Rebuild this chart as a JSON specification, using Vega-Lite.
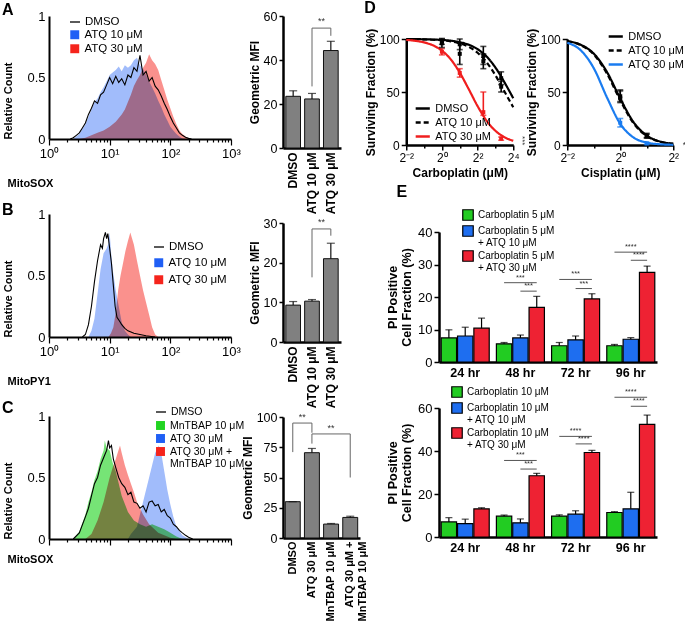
{
  "$schema": "https://vega.github.io/schema/vega-lite/v6.json",
  "background": "white",
  "padding": {"left": 2, "top": 0, "right": 0, "bottom": 0},
  "spacing": -4,
  "resolve": {"scale": {"color": "independent", "fill": "independent", "stroke": "independent", "strokeDash": "independent"}},
  "config": {
    "font": "Liberation Sans",
    "view": {"stroke": null},
    "axis": {"grid": false, "domainColor": "black", "domainWidth": 2, "tickColor": "black", "tickWidth": 1.5, "tickSize": 4, "labelColor": "black", "labelFontSize": 12, "titleColor": "black", "titleFontSize": 12, "titleFontWeight": "bold", "labelPadding": 2},
    "legend": {"labelColor": "black", "labelFontSize": 11.5},
    "title": {"fontSize": 16, "fontWeight": "bold", "anchor": "start", "frame": "bounds", "color": "black"}
  },
  "datasets": {
    "hA": [
      {"s":"DMSO","x":2.24,"y":0},{"s":"DMSO","x":2.51,"y":0.01},{"s":"DMSO","x":2.82,"y":0.03},{"s":"DMSO","x":3.16,"y":0.05},{"s":"DMSO","x":3.55,"y":0.09},{"s":"DMSO","x":3.98,"y":0.13},{"s":"DMSO","x":4.47,"y":0.2},{"s":"DMSO","x":5.01,"y":0.25},{"s":"DMSO","x":5.62,"y":0.31},{"s":"DMSO","x":6.31,"y":0.29},{"s":"DMSO","x":7.08,"y":0.36},{"s":"DMSO","x":7.94,"y":0.38},{"s":"DMSO","x":8.91,"y":0.44},{"s":"DMSO","x":10,"y":0.5},{"s":"DMSO","x":11.2,"y":0.45},{"s":"DMSO","x":12.6,"y":0.51},{"s":"DMSO","x":14.1,"y":0.46},{"s":"DMSO","x":15.8,"y":0.49},{"s":"DMSO","x":17.8,"y":0.44},{"s":"DMSO","x":20,"y":0.52},{"s":"DMSO","x":22.4,"y":0.5},{"s":"DMSO","x":25.1,"y":0.58},{"s":"DMSO","x":28.2,"y":0.55},{"s":"DMSO","x":31.6,"y":0.68},{"s":"DMSO","x":35.5,"y":0.52},{"s":"DMSO","x":39.8,"y":0.55},{"s":"DMSO","x":44.7,"y":0.47},{"s":"DMSO","x":50.1,"y":0.5},{"s":"DMSO","x":56.2,"y":0.43},{"s":"DMSO","x":63.1,"y":0.4},{"s":"DMSO","x":70.8,"y":0.35},{"s":"DMSO","x":79.4,"y":0.29},{"s":"DMSO","x":89.1,"y":0.24},{"s":"DMSO","x":100,"y":0.18},{"s":"DMSO","x":112,"y":0.13},{"s":"DMSO","x":126,"y":0.09},{"s":"DMSO","x":141,"y":0.05},{"s":"DMSO","x":158,"y":0.03},{"s":"DMSO","x":178,"y":0.015},{"s":"DMSO","x":200,"y":0.005},{"s":"DMSO","x":224,"y":0},
      {"s":"ATQ 10 μM","x":2.51,"y":0},{"s":"ATQ 10 μM","x":3.16,"y":0.04},{"s":"ATQ 10 μM","x":3.98,"y":0.12},{"s":"ATQ 10 μM","x":5.01,"y":0.24},{"s":"ATQ 10 μM","x":5.62,"y":0.3},{"s":"ATQ 10 μM","x":6.31,"y":0.33},{"s":"ATQ 10 μM","x":7.08,"y":0.38},{"s":"ATQ 10 μM","x":7.94,"y":0.42},{"s":"ATQ 10 μM","x":8.91,"y":0.47},{"s":"ATQ 10 μM","x":10,"y":0.52},{"s":"ATQ 10 μM","x":11.2,"y":0.54},{"s":"ATQ 10 μM","x":12.6,"y":0.56},{"s":"ATQ 10 μM","x":14.1,"y":0.59},{"s":"ATQ 10 μM","x":15.8,"y":0.55},{"s":"ATQ 10 μM","x":17.8,"y":0.6},{"s":"ATQ 10 μM","x":20,"y":0.58},{"s":"ATQ 10 μM","x":22.4,"y":0.6},{"s":"ATQ 10 μM","x":25.1,"y":0.64},{"s":"ATQ 10 μM","x":28.2,"y":0.66},{"s":"ATQ 10 μM","x":31.6,"y":0.6},{"s":"ATQ 10 μM","x":35.5,"y":0.57},{"s":"ATQ 10 μM","x":39.8,"y":0.52},{"s":"ATQ 10 μM","x":44.7,"y":0.47},{"s":"ATQ 10 μM","x":50.1,"y":0.42},{"s":"ATQ 10 μM","x":56.2,"y":0.37},{"s":"ATQ 10 μM","x":63.1,"y":0.31},{"s":"ATQ 10 μM","x":70.8,"y":0.26},{"s":"ATQ 10 μM","x":79.4,"y":0.2},{"s":"ATQ 10 μM","x":89.1,"y":0.15},{"s":"ATQ 10 μM","x":100,"y":0.1},{"s":"ATQ 10 μM","x":112,"y":0.07},{"s":"ATQ 10 μM","x":126,"y":0.04},{"s":"ATQ 10 μM","x":141,"y":0.02},{"s":"ATQ 10 μM","x":158,"y":0.005},{"s":"ATQ 10 μM","x":178,"y":0},
      {"s":"ATQ 30 μM","x":3.16,"y":0},{"s":"ATQ 30 μM","x":3.98,"y":0.01},{"s":"ATQ 30 μM","x":5.01,"y":0.03},{"s":"ATQ 30 μM","x":6.31,"y":0.05},{"s":"ATQ 30 μM","x":7.94,"y":0.07},{"s":"ATQ 30 μM","x":10,"y":0.1},{"s":"ATQ 30 μM","x":12.6,"y":0.14},{"s":"ATQ 30 μM","x":15.8,"y":0.2},{"s":"ATQ 30 μM","x":17.8,"y":0.24},{"s":"ATQ 30 μM","x":20,"y":0.3},{"s":"ATQ 30 μM","x":22.4,"y":0.36},{"s":"ATQ 30 μM","x":25.1,"y":0.43},{"s":"ATQ 30 μM","x":28.2,"y":0.48},{"s":"ATQ 30 μM","x":31.6,"y":0.52},{"s":"ATQ 30 μM","x":35.5,"y":0.58},{"s":"ATQ 30 μM","x":39.8,"y":0.62},{"s":"ATQ 30 μM","x":44.7,"y":0.69},{"s":"ATQ 30 μM","x":50.1,"y":0.64},{"s":"ATQ 30 μM","x":56.2,"y":0.61},{"s":"ATQ 30 μM","x":63.1,"y":0.56},{"s":"ATQ 30 μM","x":70.8,"y":0.48},{"s":"ATQ 30 μM","x":79.4,"y":0.4},{"s":"ATQ 30 μM","x":89.1,"y":0.32},{"s":"ATQ 30 μM","x":100,"y":0.25},{"s":"ATQ 30 μM","x":112,"y":0.18},{"s":"ATQ 30 μM","x":126,"y":0.12},{"s":"ATQ 30 μM","x":141,"y":0.07},{"s":"ATQ 30 μM","x":158,"y":0.04},{"s":"ATQ 30 μM","x":178,"y":0.02},{"s":"ATQ 30 μM","x":200,"y":0.005},{"s":"ATQ 30 μM","x":224,"y":0}
    ],
    "hB": [
      {"s":"DMSO","x":3.55,"y":0},{"s":"DMSO","x":3.98,"y":0.02},{"s":"DMSO","x":4.47,"y":0.1},{"s":"DMSO","x":5.01,"y":0.25},{"s":"DMSO","x":5.62,"y":0.45},{"s":"DMSO","x":6.31,"y":0.62},{"s":"DMSO","x":7.08,"y":0.75},{"s":"DMSO","x":7.59,"y":0.72},{"s":"DMSO","x":7.94,"y":0.8},{"s":"DMSO","x":8.51,"y":0.85},{"s":"DMSO","x":8.91,"y":0.8},{"s":"DMSO","x":9.33,"y":0.84},{"s":"DMSO","x":10,"y":0.72},{"s":"DMSO","x":10.7,"y":0.6},{"s":"DMSO","x":11.5,"y":0.42},{"s":"DMSO","x":12.3,"y":0.25},{"s":"DMSO","x":13.2,"y":0.16},{"s":"DMSO","x":14.5,"y":0.13},{"s":"DMSO","x":15.8,"y":0.1},{"s":"DMSO","x":17.8,"y":0.07},{"s":"DMSO","x":20,"y":0.05},{"s":"DMSO","x":25.1,"y":0.03},{"s":"DMSO","x":31.6,"y":0.02},{"s":"DMSO","x":39.8,"y":0.01},{"s":"DMSO","x":56.2,"y":0},
      {"s":"ATQ 10 μM","x":4.47,"y":0},{"s":"ATQ 10 μM","x":5.01,"y":0.05},{"s":"ATQ 10 μM","x":5.62,"y":0.15},{"s":"ATQ 10 μM","x":6.31,"y":0.35},{"s":"ATQ 10 μM","x":7.08,"y":0.55},{"s":"ATQ 10 μM","x":7.94,"y":0.68},{"s":"ATQ 10 μM","x":8.91,"y":0.72},{"s":"ATQ 10 μM","x":9.55,"y":0.76},{"s":"ATQ 10 μM","x":10,"y":0.85},{"s":"ATQ 10 μM","x":10.5,"y":0.7},{"s":"ATQ 10 μM","x":11.2,"y":0.55},{"s":"ATQ 10 μM","x":12.6,"y":0.38},{"s":"ATQ 10 μM","x":14.1,"y":0.25},{"s":"ATQ 10 μM","x":15.8,"y":0.12},{"s":"ATQ 10 μM","x":17.8,"y":0.05},{"s":"ATQ 10 μM","x":20,"y":0.02},{"s":"ATQ 10 μM","x":22.4,"y":0},
      {"s":"ATQ 30 μM","x":9.55,"y":0},{"s":"ATQ 30 μM","x":10.5,"y":0.03},{"s":"ATQ 30 μM","x":11.5,"y":0.08},{"s":"ATQ 30 μM","x":12.6,"y":0.2},{"s":"ATQ 30 μM","x":13.8,"y":0.38},{"s":"ATQ 30 μM","x":15.1,"y":0.5},{"s":"ATQ 30 μM","x":16.6,"y":0.6},{"s":"ATQ 30 μM","x":18.2,"y":0.7},{"s":"ATQ 30 μM","x":20,"y":0.78},{"s":"ATQ 30 μM","x":21.9,"y":0.85},{"s":"ATQ 30 μM","x":23.4,"y":0.8},{"s":"ATQ 30 μM","x":25.1,"y":0.75},{"s":"ATQ 30 μM","x":28.2,"y":0.62},{"s":"ATQ 30 μM","x":31.6,"y":0.5},{"s":"ATQ 30 μM","x":35.5,"y":0.38},{"s":"ATQ 30 μM","x":39.8,"y":0.28},{"s":"ATQ 30 μM","x":44.7,"y":0.18},{"s":"ATQ 30 μM","x":50.1,"y":0.08},{"s":"ATQ 30 μM","x":56.2,"y":0.02},{"s":"ATQ 30 μM","x":63.1,"y":0}
    ],
    "hC": [
      {"s":"DMSO","x":2.51,"y":0},{"s":"DMSO","x":3.16,"y":0.05},{"s":"DMSO","x":3.98,"y":0.18},{"s":"DMSO","x":4.47,"y":0.25},{"s":"DMSO","x":5.01,"y":0.35},{"s":"DMSO","x":5.62,"y":0.45},{"s":"DMSO","x":6.31,"y":0.5},{"s":"DMSO","x":7.08,"y":0.6},{"s":"DMSO","x":7.94,"y":0.66},{"s":"DMSO","x":8.91,"y":0.72},{"s":"DMSO","x":9.55,"y":0.8},{"s":"DMSO","x":10,"y":0.74},{"s":"DMSO","x":10.7,"y":0.76},{"s":"DMSO","x":11.5,"y":0.65},{"s":"DMSO","x":12.6,"y":0.58},{"s":"DMSO","x":14.1,"y":0.5},{"s":"DMSO","x":15.8,"y":0.45},{"s":"DMSO","x":17.8,"y":0.42},{"s":"DMSO","x":20,"y":0.36},{"s":"DMSO","x":22.4,"y":0.38},{"s":"DMSO","x":25.1,"y":0.3},{"s":"DMSO","x":28.2,"y":0.29},{"s":"DMSO","x":31.6,"y":0.25},{"s":"DMSO","x":35.5,"y":0.27},{"s":"DMSO","x":39.8,"y":0.22},{"s":"DMSO","x":44.7,"y":0.3},{"s":"DMSO","x":50.1,"y":0.31},{"s":"DMSO","x":56.2,"y":0.27},{"s":"DMSO","x":63.1,"y":0.28},{"s":"DMSO","x":70.8,"y":0.22},{"s":"DMSO","x":79.4,"y":0.24},{"s":"DMSO","x":89.1,"y":0.19},{"s":"DMSO","x":100,"y":0.17},{"s":"DMSO","x":112,"y":0.12},{"s":"DMSO","x":126,"y":0.1},{"s":"DMSO","x":141,"y":0.07},{"s":"DMSO","x":158,"y":0.05},{"s":"DMSO","x":178,"y":0.03},{"s":"DMSO","x":200,"y":0.015},{"s":"DMSO","x":234,"y":0},
      {"s":"MnTBAP 10 μM","x":2.51,"y":0},{"s":"MnTBAP 10 μM","x":3.16,"y":0.06},{"s":"MnTBAP 10 μM","x":3.98,"y":0.2},{"s":"MnTBAP 10 μM","x":4.47,"y":0.3},{"s":"MnTBAP 10 μM","x":5.01,"y":0.38},{"s":"MnTBAP 10 μM","x":5.62,"y":0.48},{"s":"MnTBAP 10 μM","x":6.31,"y":0.55},{"s":"MnTBAP 10 μM","x":7.08,"y":0.65},{"s":"MnTBAP 10 μM","x":7.94,"y":0.72},{"s":"MnTBAP 10 μM","x":8.32,"y":0.8},{"s":"MnTBAP 10 μM","x":8.91,"y":0.74},{"s":"MnTBAP 10 μM","x":10,"y":0.72},{"s":"MnTBAP 10 μM","x":11.2,"y":0.62},{"s":"MnTBAP 10 μM","x":12.6,"y":0.55},{"s":"MnTBAP 10 μM","x":15.8,"y":0.35},{"s":"MnTBAP 10 μM","x":20,"y":0.22},{"s":"MnTBAP 10 μM","x":25.1,"y":0.15},{"s":"MnTBAP 10 μM","x":31.6,"y":0.12},{"s":"MnTBAP 10 μM","x":39.8,"y":0.1},{"s":"MnTBAP 10 μM","x":50.1,"y":0.12},{"s":"MnTBAP 10 μM","x":63.1,"y":0.1},{"s":"MnTBAP 10 μM","x":79.4,"y":0.08},{"s":"MnTBAP 10 μM","x":100,"y":0.05},{"s":"MnTBAP 10 μM","x":126,"y":0.02},{"s":"MnTBAP 10 μM","x":158,"y":0},
      {"s":"ATQ 30 μM + MnTBAP 10 μM","x":3.98,"y":0},{"s":"ATQ 30 μM + MnTBAP 10 μM","x":5.01,"y":0.04},{"s":"ATQ 30 μM + MnTBAP 10 μM","x":6.31,"y":0.15},{"s":"ATQ 30 μM + MnTBAP 10 μM","x":7.94,"y":0.3},{"s":"ATQ 30 μM + MnTBAP 10 μM","x":10,"y":0.5},{"s":"ATQ 30 μM + MnTBAP 10 μM","x":11.2,"y":0.58},{"s":"ATQ 30 μM + MnTBAP 10 μM","x":12.6,"y":0.65},{"s":"ATQ 30 μM + MnTBAP 10 μM","x":14.8,"y":0.76},{"s":"ATQ 30 μM + MnTBAP 10 μM","x":15.8,"y":0.7},{"s":"ATQ 30 μM + MnTBAP 10 μM","x":17.8,"y":0.6},{"s":"ATQ 30 μM + MnTBAP 10 μM","x":20,"y":0.52},{"s":"ATQ 30 μM + MnTBAP 10 μM","x":22.4,"y":0.45},{"s":"ATQ 30 μM + MnTBAP 10 μM","x":25.1,"y":0.38},{"s":"ATQ 30 μM + MnTBAP 10 μM","x":28.2,"y":0.3},{"s":"ATQ 30 μM + MnTBAP 10 μM","x":35.5,"y":0.2},{"s":"ATQ 30 μM + MnTBAP 10 μM","x":44.7,"y":0.12},{"s":"ATQ 30 μM + MnTBAP 10 μM","x":63.1,"y":0.05},{"s":"ATQ 30 μM + MnTBAP 10 μM","x":100,"y":0.01},{"s":"ATQ 30 μM + MnTBAP 10 μM","x":126,"y":0},
      {"s":"ATQ 30 μM","x":20,"y":0},{"s":"ATQ 30 μM","x":22.4,"y":0.04},{"s":"ATQ 30 μM","x":28.2,"y":0.1},{"s":"ATQ 30 μM","x":35.5,"y":0.3},{"s":"ATQ 30 μM","x":44.7,"y":0.5},{"s":"ATQ 30 μM","x":50.1,"y":0.6},{"s":"ATQ 30 μM","x":56.2,"y":0.7},{"s":"ATQ 30 μM","x":64.6,"y":0.76},{"s":"ATQ 30 μM","x":70.8,"y":0.7},{"s":"ATQ 30 μM","x":79.4,"y":0.55},{"s":"ATQ 30 μM","x":89.1,"y":0.4},{"s":"ATQ 30 μM","x":100,"y":0.28},{"s":"ATQ 30 μM","x":112,"y":0.18},{"s":"ATQ 30 μM","x":126,"y":0.1},{"s":"ATQ 30 μM","x":158,"y":0.03},{"s":"ATQ 30 μM","x":200,"y":0}
    ],
    "bA": [{"g":"DMSO","v":23.5,"hi":26},{"g":"ATQ 10 μM","v":22.3,"hi":24.8},{"g":"ATQ 30 μM","v":44.3,"hi":48.5}],
    "bB": [{"g":"DMSO","v":9.3,"hi":10.2},{"g":"ATQ 10 μM","v":10.3,"hi":10.7},{"g":"ATQ 30 μM","v":21,"hi":24.9}],
    "bC": [{"g":"DMSO","v":30,"hi":30},{"g":"ATQ 30 μM","v":70.5,"hi":74},{"g":"MnTBAP 10 μM","v":11.5,"hi":12},{"g":"ATQ 30 μM + MnTBAP 10 μM","v":17,"hi":18}],
    "brA": [{"k":"v","g":"ATQ 10 μM","y":28,"y2":54.5},{"k":"v","g":"ATQ 30 μM","y":51,"y2":54.5},{"k":"h","g":"ATQ 10 μM","g2":"ATQ 30 μM","y":54.5},{"k":"s","g":"ATQ 10 μM","y":55.5,"t":"**"}],
    "brB": [{"k":"v","g":"ATQ 10 μM","y":16.3,"y2":28.5},{"k":"v","g":"ATQ 30 μM","y":26.8,"y2":28.5},{"k":"h","g":"ATQ 10 μM","g2":"ATQ 30 μM","y":28.5},{"k":"s","g":"ATQ 10 μM","y":29,"t":"**"}],
    "brC": [{"k":"v","g":"DMSO","y":71,"y2":95},{"k":"v","g":"ATQ 30 μM","y":87,"y2":95},{"k":"h","g":"DMSO","g2":"ATQ 30 μM","y":95},{"k":"s","g":"DMSO","y":95.5,"t":"**"},{"k":"v","g":"ATQ 30 μM","y":78,"y2":86},{"k":"v","g":"ATQ 30 μM + MnTBAP 10 μM","y":50,"y2":86},{"k":"h","g":"ATQ 30 μM","g2":"ATQ 30 μM + MnTBAP 10 μM","y":86},{"k":"s2","g":"MnTBAP 10 μM","y":86.5,"t":"**"}],
    "dcL": [
      {"s":"DMSO","x":0.25,"y":99.9},{"s":"DMSO","x":0.354,"y":99.9},{"s":"DMSO","x":0.5,"y":99.7},{"s":"DMSO","x":0.707,"y":99.5},{"s":"DMSO","x":1,"y":99.1},{"s":"DMSO","x":1.414,"y":98.4},{"s":"DMSO","x":2,"y":97.0},{"s":"DMSO","x":2.83,"y":94.6},{"s":"DMSO","x":4,"y":90.4},{"s":"DMSO","x":5.66,"y":83.5},{"s":"DMSO","x":8,"y":73.1},{"s":"DMSO","x":11.3,"y":59.4},{"s":"DMSO","x":16,"y":44.1},
      {"s":"ATQ 10 μM","x":0.25,"y":99.9},{"s":"ATQ 10 μM","x":0.354,"y":99.8},{"s":"ATQ 10 μM","x":0.5,"y":99.6},{"s":"ATQ 10 μM","x":0.707,"y":99.3},{"s":"ATQ 10 μM","x":1,"y":98.8},{"s":"ATQ 10 μM","x":1.414,"y":97.7},{"s":"ATQ 10 μM","x":2,"y":95.9},{"s":"ATQ 10 μM","x":2.83,"y":92.6},{"s":"ATQ 10 μM","x":4,"y":87.0},{"s":"ATQ 10 μM","x":5.66,"y":78.2},{"s":"ATQ 10 μM","x":8,"y":65.8},{"s":"ATQ 10 μM","x":11.3,"y":50.7},{"s":"ATQ 10 μM","x":16,"y":35.6},
      {"s":"ATQ 30 μM","x":0.25,"y":99.1},{"s":"ATQ 30 μM","x":0.354,"y":98.3},{"s":"ATQ 30 μM","x":0.5,"y":96.8},{"s":"ATQ 30 μM","x":0.707,"y":94.0},{"s":"ATQ 30 μM","x":1,"y":89.0},{"s":"ATQ 30 μM","x":1.414,"y":80.7},{"s":"ATQ 30 μM","x":2,"y":68.3},{"s":"ATQ 30 μM","x":2.83,"y":52.8},{"s":"ATQ 30 μM","x":4,"y":36.7},{"s":"ATQ 30 μM","x":5.66,"y":23.0},{"s":"ATQ 30 μM","x":8,"y":13.4},{"s":"ATQ 30 μM","x":11.3,"y":7.4},{"s":"ATQ 30 μM","x":16,"y":4.0}
    ],
    "dpL": [
      {"s":"DMSO","x":1,"y":98,"lo":95,"hi":100.5},{"s":"DMSO","x":2,"y":95,"lo":90,"hi":100},{"s":"DMSO","x":5,"y":84,"lo":76,"hi":93},{"s":"DMSO","x":10,"y":63,"lo":57,"hi":69},
      {"s":"ATQ 10 μM","x":1,"y":96,"lo":92,"hi":100},{"s":"ATQ 10 μM","x":2,"y":86,"lo":76,"hi":96},{"s":"ATQ 10 μM","x":5,"y":79,"lo":72,"hi":86},{"s":"ATQ 10 μM","x":10,"y":55,"lo":50,"hi":60},
      {"s":"ATQ 30 μM","x":1,"y":88,"lo":85,"hi":91},{"s":"ATQ 30 μM","x":2,"y":68,"lo":64,"hi":72},{"s":"ATQ 30 μM","x":5,"y":31,"lo":28,"hi":50},{"s":"ATQ 30 μM","x":10,"y":6,"lo":4.5,"hi":7.5}
    ],
    "dcR": [
      {"s":"DMSO","x":0.25,"y":98.0},{"s":"DMSO","x":0.354,"y":94.6},{"s":"DMSO","x":0.5,"y":86.2},{"s":"DMSO","x":0.707,"y":68.8},{"s":"DMSO","x":1,"y":43.8},{"s":"DMSO","x":1.414,"y":21.6},{"s":"DMSO","x":2,"y":8.9},{"s":"DMSO","x":2.83,"y":3.3},{"s":"DMSO","x":4,"y":1.2},
      {"s":"ATQ 10 μM","x":0.25,"y":97.9},{"s":"ATQ 10 μM","x":0.354,"y":94.3},{"s":"ATQ 10 μM","x":0.5,"y":85.4},{"s":"ATQ 10 μM","x":0.707,"y":67.3},{"s":"ATQ 10 μM","x":1,"y":42.2},{"s":"ATQ 10 μM","x":1.414,"y":20.5},{"s":"ATQ 10 μM","x":2,"y":8.4},{"s":"ATQ 10 μM","x":2.83,"y":3.1},{"s":"ATQ 10 μM","x":4,"y":1.1},
      {"s":"ATQ 30 μM","x":0.25,"y":96.5},{"s":"ATQ 30 μM","x":0.354,"y":89.5},{"s":"ATQ 30 μM","x":0.5,"y":72.5},{"s":"ATQ 30 μM","x":0.707,"y":44.8},{"s":"ATQ 30 μM","x":1,"y":20.0},{"s":"ATQ 30 μM","x":1.414,"y":7.1},{"s":"ATQ 30 μM","x":2,"y":2.3},{"s":"ATQ 30 μM","x":2.83,"y":0.7},{"s":"ATQ 30 μM","x":4,"y":0.2}
    ],
    "dpR": [
      {"s":"DMSO","x":1,"y":44,"lo":40,"hi":52},{"s":"DMSO","x":2,"y":9,"lo":7,"hi":11},
      {"s":"ATQ 10 μM","x":1,"y":46,"lo":41,"hi":51},{"s":"ATQ 10 μM","x":2,"y":8,"lo":6.5,"hi":10},
      {"s":"ATQ 30 μM","x":1,"y":21,"lo":17,"hi":25},{"s":"ATQ 30 μM","x":2,"y":1.5,"lo":0.5,"hi":2.5}
    ],
    "dstar": [{"p":"L","x":16,"y":4,"t":"***"},{"p":"R","x":4,"y":0,"t":"**"}],
    "eT": [
      {"t":"24 hr","g":"Carboplatin 5 μM","v":7.4,"hi":9.9},{"t":"24 hr","g":"Carboplatin 5 μM + ATQ 10 μM","v":8.0,"hi":10.7},{"t":"24 hr","g":"Carboplatin 5 μM + ATQ 30 μM","v":10.4,"hi":13.5},
      {"t":"48 hr","g":"Carboplatin 5 μM","v":5.6,"hi":6.0},{"t":"48 hr","g":"Carboplatin 5 μM + ATQ 10 μM","v":7.4,"hi":8.3},{"t":"48 hr","g":"Carboplatin 5 μM + ATQ 30 μM","v":16.8,"hi":20.2},
      {"t":"72 hr","g":"Carboplatin 5 μM","v":5.0,"hi":6.0},{"t":"72 hr","g":"Carboplatin 5 μM + ATQ 10 μM","v":6.8,"hi":8.0},{"t":"72 hr","g":"Carboplatin 5 μM + ATQ 30 μM","v":19.4,"hi":21.0},
      {"t":"96 hr","g":"Carboplatin 5 μM","v":5.0,"hi":5.4},{"t":"96 hr","g":"Carboplatin 5 μM + ATQ 10 μM","v":7.0,"hi":7.5},{"t":"96 hr","g":"Carboplatin 5 μM + ATQ 30 μM","v":27.6,"hi":29.5}
    ],
    "sT": [
      {"t":"48 hr","k":"long","y":24.4,"lab":"***"},{"t":"48 hr","k":"short","y":21.8,"lab":"***"},
      {"t":"72 hr","k":"long","y":25.4,"lab":"***"},{"t":"72 hr","k":"short","y":22.6,"lab":"***"},
      {"t":"96 hr","k":"long","y":33.8,"lab":"****"},{"t":"96 hr","k":"short","y":31.3,"lab":"****"}
    ],
    "eB": [
      {"t":"24 hr","g":"Carboplatin 10 μM","v":7.0,"hi":9.0},{"t":"24 hr","g":"Carboplatin 10 μM + ATQ 10 μM","v":6.2,"hi":8.3},{"t":"24 hr","g":"Carboplatin 10 μM + ATQ 30 μM","v":13.1,"hi":13.6},
      {"t":"48 hr","g":"Carboplatin 10 μM","v":9.7,"hi":10.2},{"t":"48 hr","g":"Carboplatin 10 μM + ATQ 10 μM","v":6.6,"hi":8.4},{"t":"48 hr","g":"Carboplatin 10 μM + ATQ 30 μM","v":28.5,"hi":29.6},
      {"t":"72 hr","g":"Carboplatin 10 μM","v":9.7,"hi":10.3},{"t":"72 hr","g":"Carboplatin 10 μM + ATQ 10 μM","v":10.6,"hi":12.2},{"t":"72 hr","g":"Carboplatin 10 μM + ATQ 30 μM","v":39.3,"hi":40.3},
      {"t":"96 hr","g":"Carboplatin 10 μM","v":11.4,"hi":11.8},{"t":"96 hr","g":"Carboplatin 10 μM + ATQ 10 μM","v":13.1,"hi":20.8},{"t":"96 hr","g":"Carboplatin 10 μM + ATQ 30 μM","v":52.4,"hi":56.7}
    ],
    "sB": [
      {"t":"48 hr","k":"long","y":35.6,"lab":"***"},{"t":"48 hr","k":"short","y":31.6,"lab":"***"},
      {"t":"72 hr","k":"long","y":46.8,"lab":"****"},{"t":"72 hr","k":"short","y":43.3,"lab":"****"},
      {"t":"96 hr","k":"long","y":65,"lab":"****"},{"t":"96 hr","k":"short","y":60.8,"lab":"****"}
    ]
  },
  "hconcat": [
    {
      "resolve": {"scale": {"color": "independent", "fill": "independent", "stroke": "independent", "strokeDash": "independent"}},
      "spacing": 14,
      "vconcat": [
        {
          "width": 182, "height": 123,
          "title": {"text": "A", "offset": -8},
          "data": {"name": "hA"},
          "encoding": {
            "x": {"field": "x", "type": "quantitative", "scale": {"type": "log", "domain": [1, 1000], "nice": false},
              "axis": {"title": "MitoSOX", "titleX": -42, "titleY": 38, "titleAlign": "left", "titleBaseline": "top", "titleFontSize": 11,
                "values": [1,2,3,4,5,6,7,8,9,10,20,30,40,50,60,70,80,90,100,200,300,400,500,600,700,800,900,1000],
                "labelExpr": "datum.value == 1 ? '10⁰' : datum.value == 10 ? '10¹' : datum.value == 100 ? '10²' : datum.value == 1000 ? '10³' : ''",
                "labelOverlap": false, "labelFlush": false, "labelFontSize": 13, "tickWidth": 1.2,
                "tickSize": {"condition": {"test": "datum.value == 1 || datum.value == 10 || datum.value == 100 || datum.value == 1000", "value": 6}, "value": 3}}},
            "y": {"field": "y", "type": "quantitative", "stack": null, "scale": {"domain": [0, 1]},
              "axis": {"title": "Relative Count", "titleAngle": -90, "titleX": -36, "titleY": 123, "titleAlign": "left", "titleBaseline": "bottom", "titleFontSize": 11, "values": [0, 0.5, 1], "format": "~g", "labelFontSize": 13, "tickSize": 0, "labelPadding": 4}}
          },
          "layer": [
            {"transform": [{"filter": "datum.s == 'ATQ 10 μM'"}], "mark": {"type": "area", "opacity": 0.42, "blend": "multiply"},
             "encoding": {"fill": {"field": "s", "type": "nominal", "scale": {"domain": ["ATQ 10 μM", "ATQ 30 μM"], "range": ["#1f5ff5", "#f5241c"]}, "legend": {"title": null, "orient": "none", "legendX": 20, "legendY": 13, "symbolType": "square", "symbolSize": 80, "symbolOpacity": 1, "labelFontSize": 11.5, "rowPadding": 1}}}},
            {"transform": [{"filter": "datum.s == 'ATQ 30 μM'"}], "mark": {"type": "area", "opacity": 0.5, "blend": "multiply"},
             "encoding": {"fill": {"field": "s", "type": "nominal", "scale": {"domain": ["ATQ 10 μM", "ATQ 30 μM"], "range": ["#1f5ff5", "#f5241c"]}, "legend": {"title": null, "orient": "none", "legendX": 20, "legendY": 13, "symbolType": "square", "symbolSize": 80, "symbolOpacity": 1, "labelFontSize": 11.5, "rowPadding": 1}}}},
            {"transform": [{"filter": "datum.s == 'DMSO'"}], "mark": {"type": "line", "strokeWidth": 1.1},
             "encoding": {"stroke": {"field": "s", "type": "nominal", "scale": {"domain": ["DMSO"], "range": ["black"]}, "legend": {"title": null, "orient": "none", "legendX": 20, "legendY": 0, "symbolType": "stroke", "symbolSize": 100, "symbolStrokeWidth": 1.3, "labelFontSize": 11.5}}}}
          ]
        },
        {
          "width": 182, "height": 123,
          "title": {"text": "B", "offset": -10},
          "data": {"name": "hB"},
          "encoding": {
            "x": {"field": "x", "type": "quantitative", "scale": {"type": "log", "domain": [1, 1000], "nice": false},
              "axis": {"title": "MitoPY1", "titleX": -42, "titleY": 38, "titleAlign": "left", "titleBaseline": "top", "titleFontSize": 11,
                "values": [1,2,3,4,5,6,7,8,9,10,20,30,40,50,60,70,80,90,100,200,300,400,500,600,700,800,900,1000],
                "labelExpr": "datum.value == 1 ? '10⁰' : datum.value == 10 ? '10¹' : datum.value == 100 ? '10²' : datum.value == 1000 ? '10³' : ''",
                "labelOverlap": false, "labelFlush": false, "labelFontSize": 13, "tickWidth": 1.2,
                "tickSize": {"condition": {"test": "datum.value == 1 || datum.value == 10 || datum.value == 100 || datum.value == 1000", "value": 6}, "value": 3}}},
            "y": {"field": "y", "type": "quantitative", "stack": null, "scale": {"domain": [0, 1]},
              "axis": {"title": "Relative Count", "titleAngle": -90, "titleX": -36, "titleY": 123, "titleAlign": "left", "titleBaseline": "bottom", "titleFontSize": 11, "values": [0, 0.5, 1], "format": "~g", "labelFontSize": 13, "tickSize": 0, "labelPadding": 4}}
          },
          "layer": [
            {"transform": [{"filter": "datum.s == 'ATQ 10 μM'"}], "mark": {"type": "area", "opacity": 0.42, "blend": "multiply"},
             "encoding": {"fill": {"field": "s", "type": "nominal", "scale": {"domain": ["ATQ 10 μM", "ATQ 30 μM"], "range": ["#1f5ff5", "#f5241c"]}, "legend": {"title": null, "orient": "none", "legendX": 104, "legendY": 43, "symbolType": "square", "symbolSize": 80, "symbolOpacity": 1, "labelFontSize": 11.5, "rowPadding": 4}}}},
            {"transform": [{"filter": "datum.s == 'ATQ 30 μM'"}], "mark": {"type": "area", "opacity": 0.5, "blend": "multiply"},
             "encoding": {"fill": {"field": "s", "type": "nominal", "scale": {"domain": ["ATQ 10 μM", "ATQ 30 μM"], "range": ["#1f5ff5", "#f5241c"]}, "legend": {"title": null, "orient": "none", "legendX": 104, "legendY": 43, "symbolType": "square", "symbolSize": 80, "symbolOpacity": 1, "labelFontSize": 11.5, "rowPadding": 4}}}},
            {"transform": [{"filter": "datum.s == 'DMSO'"}], "mark": {"type": "line", "strokeWidth": 1.1},
             "encoding": {"stroke": {"field": "s", "type": "nominal", "scale": {"domain": ["DMSO"], "range": ["black"]}, "legend": {"title": null, "orient": "none", "legendX": 104, "legendY": 27, "symbolType": "stroke", "symbolSize": 100, "symbolStrokeWidth": 1.3, "labelFontSize": 11.5}}}}
          ]
        },
        {
          "width": 182, "height": 123,
          "title": {"text": "C", "offset": -10},
          "data": {"name": "hC"},
          "encoding": {
            "x": {"field": "x", "type": "quantitative", "scale": {"type": "log", "domain": [1, 1000], "nice": false},
              "axis": {"title": "MitoSOX", "titleX": -42, "titleY": 14, "titleAlign": "left", "titleBaseline": "top", "titleFontSize": 11,
                "values": [1,2,3,4,5,6,7,8,9,10,20,30,40,50,60,70,80,90,100,200,300,400,500,600,700,800,900,1000],
                "labels": false, "tickWidth": 1.2,
                "tickSize": {"condition": {"test": "datum.value == 1 || datum.value == 10 || datum.value == 100 || datum.value == 1000", "value": 6}, "value": 3}}},
            "y": {"field": "y", "type": "quantitative", "stack": null, "scale": {"domain": [0, 1]},
              "axis": {"title": "Relative Count", "titleAngle": -90, "titleX": -36, "titleY": 123, "titleAlign": "left", "titleBaseline": "bottom", "titleFontSize": 11, "values": [0, 0.5, 1], "format": "~g", "labelFontSize": 13, "tickSize": 0, "labelPadding": 4}}
          },
          "layer": [
            {"transform": [{"filter": "datum.s == 'MnTBAP 10 μM'"}], "mark": {"type": "area", "opacity": 0.62, "blend": "multiply"},
             "encoding": {"fill": {"field": "s", "type": "nominal", "scale": {"domain": ["MnTBAP 10 μM", "ATQ 30 μM", "ATQ 30 μM + MnTBAP 10 μM"], "range": ["#22d422", "#1f5ff5", "#f5241c"]}, "legend": {"title": null, "orient": "none", "legendX": 106, "legendY": 4, "symbolType": "square", "symbolSize": 80, "symbolOpacity": 1, "labelFontSize": 10.5, "rowPadding": 2, "labelExpr": "datum.label == 'ATQ 30 μM + MnTBAP 10 μM' ? ['ATQ 30 μM +', 'MnTBAP 10 μM'] : datum.label"}}}},
            {"transform": [{"filter": "datum.s == 'ATQ 30 μM + MnTBAP 10 μM'"}], "mark": {"type": "area", "opacity": 0.5, "blend": "multiply"},
             "encoding": {"fill": {"field": "s", "type": "nominal", "scale": {"domain": ["MnTBAP 10 μM", "ATQ 30 μM", "ATQ 30 μM + MnTBAP 10 μM"], "range": ["#22d422", "#1f5ff5", "#f5241c"]}, "legend": {"title": null, "orient": "none", "legendX": 106, "legendY": 4, "symbolType": "square", "symbolSize": 80, "symbolOpacity": 1, "labelFontSize": 10.5, "rowPadding": 2, "labelExpr": "datum.label == 'ATQ 30 μM + MnTBAP 10 μM' ? ['ATQ 30 μM +', 'MnTBAP 10 μM'] : datum.label"}}}},
            {"transform": [{"filter": "datum.s == 'ATQ 30 μM'"}], "mark": {"type": "area", "opacity": 0.42, "blend": "multiply"},
             "encoding": {"fill": {"field": "s", "type": "nominal", "scale": {"domain": ["MnTBAP 10 μM", "ATQ 30 μM", "ATQ 30 μM + MnTBAP 10 μM"], "range": ["#22d422", "#1f5ff5", "#f5241c"]}, "legend": {"title": null, "orient": "none", "legendX": 106, "legendY": 4, "symbolType": "square", "symbolSize": 80, "symbolOpacity": 1, "labelFontSize": 10.5, "rowPadding": 2, "labelExpr": "datum.label == 'ATQ 30 μM + MnTBAP 10 μM' ? ['ATQ 30 μM +', 'MnTBAP 10 μM'] : datum.label"}}}},
            {"transform": [{"filter": "datum.s == 'DMSO'"}], "mark": {"type": "line", "strokeWidth": 1.1},
             "encoding": {"stroke": {"field": "s", "type": "nominal", "scale": {"domain": ["DMSO"], "range": ["black"]}, "legend": {"title": null, "orient": "none", "legendX": 106, "legendY": -10, "symbolType": "stroke", "symbolSize": 100, "symbolStrokeWidth": 1.3, "labelFontSize": 10.5}}}}
          ]
        }
      ]
    },
    {
      "resolve": {"scale": {"color": "independent", "fill": "independent", "stroke": "independent", "strokeDash": "independent"}},
      "spacing": -16,
      "hconcat": [
        {
          "resolve": {"scale": {"color": "independent", "fill": "independent", "stroke": "independent", "strokeDash": "independent"}},
          "spacing": 3,
          "vconcat": [
            {
              "width": 58, "height": 132,
              "data": {"name": "bA"},
              "encoding": {
                "x": {"field": "g", "type": "nominal", "title": null, "scale": {"domain": ["DMSO", "ATQ 10 μM", "ATQ 30 μM"], "paddingInner": 0.22, "paddingOuter": 0.15},
                  "axis": {"labelAngle": -90, "labelFontWeight": "bold", "labelFontSize": 12, "ticks": false, "labelPadding": 4, "domainWidth": 2.5}},
                "y": {"field": "v", "type": "quantitative", "scale": {"domain": [0, 60]}, "axis": {"title": "Geometric MFI", "values": [0, 20, 40, 60], "titlePadding": 2, "domainWidth": 2.5, "labelFontSize": 12.5}}
              },
              "layer": [
                {"mark": {"type": "bar", "fill": "#808080", "stroke": "#111", "strokeWidth": 1}},
                {"mark": {"type": "rule", "color": "#111", "strokeWidth": 1.2}, "encoding": {"y2": {"field": "hi"}}},
                {"mark": {"type": "tick", "color": "#111", "thickness": 1.2, "size": 8}, "encoding": {"y": {"field": "hi", "type": "quantitative"}}},
                {"data": {"name": "brA"}, "transform": [{"filter": "datum.k == 'v'"}], "mark": {"type": "rule", "color": "#666", "strokeWidth": 1}, "encoding": {"y": {"field": "y", "type": "quantitative"}, "y2": {"field": "y2"}}},
                {"data": {"name": "brA"}, "transform": [{"filter": "datum.k == 'h'"}], "mark": {"type": "rule", "color": "#666", "strokeWidth": 1}, "encoding": {"x2": {"field": "g2"}, "y": {"field": "y", "type": "quantitative"}}},
                {"data": {"name": "brA"}, "transform": [{"filter": "datum.k == 's'"}], "mark": {"type": "text", "fontSize": 9, "baseline": "bottom", "color": "#333"}, "encoding": {"x": {"field": "g", "type": "nominal", "bandPosition": 1.14}, "y": {"field": "y", "type": "quantitative"}, "text": {"field": "t"}}}
              ]
            },
            {
              "width": 58, "height": 119,
              "data": {"name": "bB"},
              "encoding": {
                "x": {"field": "g", "type": "nominal", "title": null, "scale": {"domain": ["DMSO", "ATQ 10 μM", "ATQ 30 μM"], "paddingInner": 0.22, "paddingOuter": 0.15},
                  "axis": {"labelAngle": -90, "labelFontWeight": "bold", "labelFontSize": 12, "ticks": false, "labelPadding": 4, "domainWidth": 2.5}},
                "y": {"field": "v", "type": "quantitative", "scale": {"domain": [0, 30]}, "axis": {"title": "Geometric MFI", "values": [0, 10, 20, 30], "titlePadding": 2, "domainWidth": 2.5, "labelFontSize": 12.5}}
              },
              "layer": [
                {"mark": {"type": "bar", "fill": "#808080", "stroke": "#111", "strokeWidth": 1}},
                {"mark": {"type": "rule", "color": "#111", "strokeWidth": 1.2}, "encoding": {"y2": {"field": "hi"}}},
                {"mark": {"type": "tick", "color": "#111", "thickness": 1.2, "size": 8}, "encoding": {"y": {"field": "hi", "type": "quantitative"}}},
                {"data": {"name": "brB"}, "transform": [{"filter": "datum.k == 'v'"}], "mark": {"type": "rule", "color": "#666", "strokeWidth": 1}, "encoding": {"y": {"field": "y", "type": "quantitative"}, "y2": {"field": "y2"}}},
                {"data": {"name": "brB"}, "transform": [{"filter": "datum.k == 'h'"}], "mark": {"type": "rule", "color": "#666", "strokeWidth": 1}, "encoding": {"x2": {"field": "g2"}, "y": {"field": "y", "type": "quantitative"}}},
                {"data": {"name": "brB"}, "transform": [{"filter": "datum.k == 's'"}], "mark": {"type": "text", "fontSize": 9, "baseline": "bottom", "color": "#333"}, "encoding": {"x": {"field": "g", "type": "nominal", "bandPosition": 1.14}, "y": {"field": "y", "type": "quantitative"}, "text": {"field": "t"}}}
              ]
            },
            {
              "width": 77, "height": 121,
              "data": {"name": "bC"},
              "encoding": {
                "x": {"field": "g", "type": "nominal", "title": null, "scale": {"domain": ["DMSO", "ATQ 30 μM", "MnTBAP 10 μM", "ATQ 30 μM + MnTBAP 10 μM"], "paddingInner": 0.22, "paddingOuter": 0.12},
                  "axis": {"labelAngle": -90, "labelFontWeight": "bold", "labelFontSize": 11, "ticks": false, "labelPadding": 3, "domainWidth": 2.5, "labelExpr": "datum.label == 'ATQ 30 μM + MnTBAP 10 μM' ? ['ATQ 30 μM +', 'MnTBAP 10 μM'] : datum.label"}},
                "y": {"field": "v", "type": "quantitative", "scale": {"domain": [0, 100]}, "axis": {"title": "Geometric MFI", "values": [0, 25, 50, 75, 100], "titlePadding": 2, "domainWidth": 2.5, "labelFontSize": 12.5}}
              },
              "layer": [
                {"mark": {"type": "bar", "fill": "#808080", "stroke": "#111", "strokeWidth": 1}},
                {"mark": {"type": "rule", "color": "#111", "strokeWidth": 1.2}, "encoding": {"y2": {"field": "hi"}}},
                {"mark": {"type": "tick", "color": "#111", "thickness": 1.2, "size": 8}, "encoding": {"y": {"field": "hi", "type": "quantitative"}}},
                {"data": {"name": "brC"}, "transform": [{"filter": "datum.k == 'v'"}], "mark": {"type": "rule", "color": "#666", "strokeWidth": 1}, "encoding": {"y": {"field": "y", "type": "quantitative"}, "y2": {"field": "y2"}}},
                {"data": {"name": "brC"}, "transform": [{"filter": "datum.k == 'h'"}], "mark": {"type": "rule", "color": "#666", "strokeWidth": 1}, "encoding": {"x2": {"field": "g2"}, "y": {"field": "y", "type": "quantitative"}}},
                {"data": {"name": "brC"}, "transform": [{"filter": "datum.k == 's'"}], "mark": {"type": "text", "fontSize": 9, "baseline": "bottom", "color": "#333"}, "encoding": {"x": {"field": "g", "type": "nominal", "bandPosition": 1.14}, "y": {"field": "y", "type": "quantitative"}, "text": {"field": "t"}}},
                {"data": {"name": "brC"}, "transform": [{"filter": "datum.k == 's2'"}], "mark": {"type": "text", "fontSize": 9, "baseline": "bottom", "color": "#333"}, "encoding": {"x": {"field": "g", "type": "nominal", "bandPosition": 0.5}, "y": {"field": "y", "type": "quantitative"}, "text": {"field": "t"}}}
              ]
            }
          ]
        },
        {
          "resolve": {"scale": {"color": "independent", "fill": "independent", "stroke": "independent", "strokeDash": "independent"}},
          "spacing": 4,
          "center": true,
          "vconcat": [
            {
              "title": {"text": "D", "offset": 0, "dx": 0},
              "spacing": -2,
              "resolve": {"scale": {"color": "independent", "fill": "independent", "stroke": "independent", "strokeDash": "independent"}},
              "hconcat": [
                {
                  "width": 107, "height": 129,
                  "layer": [
                    {"data": {"name": "dcL"}, "mark": {"type": "line", "strokeWidth": 2.2, "interpolate": "monotone"},
                     "encoding": {
                       "x": {"field": "x", "type": "quantitative", "title": "Carboplatin (μM)", "scale": {"type": "log", "base": 2, "domain": [0.25, 16], "nice": false}, "axis": {"values": [0.25, 0.5, 1, 2, 4, 8, 16], "labelExpr": "datum.value == 0.25 ? '2⁻²' : datum.value == 1 ? '2⁰' : datum.value == 4 ? '2²' : datum.value == 16 ? '2⁴' : ''", "labelOverlap": false, "labelFlush": false, "domainWidth": 2.5, "labelFontSize": 12, "tickSize": {"condition": {"test": "datum.value == 0.25 || datum.value == 1 || datum.value == 4 || datum.value == 16", "value": 5}, "value": 3}}},
                       "y": {"field": "y", "type": "quantitative", "title": "Surviving Fraction (%)", "scale": {"domain": [0, 100], "range": [129, 23]}, "axis": {"values": [0, 50, 100], "domainWidth": 2.5, "labelFontSize": 12, "tickSize": 5, "titlePadding": 2}},
                       "color": {"field": "s", "type": "nominal", "scale": {"domain": ["DMSO", "ATQ 10 μM", "ATQ 30 μM"], "range": ["black", "black", "#f01e1e"]}, "legend": {"title": null, "orient": "none", "legendX": 8, "legendY": 84, "symbolType": "stroke", "symbolSize": 200, "symbolStrokeWidth": 2.5, "labelFontSize": 11, "rowPadding": -3}},
                       "strokeDash": {"field": "s", "type": "nominal", "scale": {"domain": ["DMSO", "ATQ 10 μM", "ATQ 30 μM"], "range": [[1, 0], [5, 3], [1, 0]]}, "legend": {"title": null, "orient": "none", "legendX": 8, "legendY": 84, "symbolType": "stroke", "symbolSize": 200, "symbolStrokeWidth": 2.5, "labelFontSize": 11, "rowPadding": -3}}
                     }},
                    {"data": {"name": "dpL"}, "mark": {"type": "rule", "strokeWidth": 1.6},
                     "encoding": {"x": {"field": "x", "type": "quantitative", "title": "Carboplatin (μM)"}, "y": {"field": "lo", "type": "quantitative", "title": "Surviving Fraction (%)"}, "y2": {"field": "hi"},
                       "stroke": {"field": "s", "type": "nominal", "scale": {"domain": ["DMSO", "ATQ 10 μM", "ATQ 30 μM"], "range": ["black", "black", "#f01e1e"]}, "legend": null}}},
                    {"data": {"name": "dpL"}, "mark": {"type": "tick", "orient": "horizontal", "size": 6, "thickness": 1.6},
                     "encoding": {"x": {"field": "x", "type": "quantitative", "title": "Carboplatin (μM)"}, "y": {"field": "hi", "type": "quantitative", "title": "Surviving Fraction (%)"},
                       "fill": {"field": "s", "type": "nominal", "scale": {"domain": ["DMSO", "ATQ 10 μM", "ATQ 30 μM"], "range": ["black", "black", "#f01e1e"]}, "legend": null}}},
                    {"data": {"name": "dpL"}, "mark": {"type": "tick", "orient": "horizontal", "size": 6, "thickness": 1.6},
                     "encoding": {"x": {"field": "x", "type": "quantitative", "title": "Carboplatin (μM)"}, "y": {"field": "lo", "type": "quantitative", "title": "Surviving Fraction (%)"},
                       "fill": {"field": "s", "type": "nominal", "scale": {"domain": ["DMSO", "ATQ 10 μM", "ATQ 30 μM"], "range": ["black", "black", "#f01e1e"]}, "legend": null}}},
                    {"data": {"name": "dpL"}, "mark": {"type": "point", "shape": "square", "filled": true, "size": 16, "opacity": 1},
                     "encoding": {"x": {"field": "x", "type": "quantitative", "title": "Carboplatin (μM)"}, "y": {"field": "y", "type": "quantitative", "title": "Surviving Fraction (%)"},
                       "fill": {"field": "s", "type": "nominal", "scale": {"domain": ["DMSO", "ATQ 10 μM", "ATQ 30 μM"], "range": ["black", "black", "#f01e1e"]}, "legend": null}}},
                    {"data": {"name": "dstar"}, "transform": [{"filter": "datum.p == 'L'"}], "mark": {"type": "text", "angle": 90, "dx": 0, "dy": -9, "fontSize": 8, "color": "#333"},
                     "encoding": {"x": {"field": "x", "type": "quantitative", "title": "Carboplatin (μM)"}, "y": {"field": "y", "type": "quantitative", "title": "Surviving Fraction (%)"}, "text": {"field": "t"}}}
                  ]
                },
                {
                  "width": 106, "height": 129,
                  "layer": [
                    {"data": {"name": "dcR"}, "mark": {"type": "line", "strokeWidth": 2.2, "interpolate": "monotone"},
                     "encoding": {
                       "x": {"field": "x", "type": "quantitative", "title": "Cisplatin (μM)", "scale": {"type": "log", "base": 2, "domain": [0.25, 4], "nice": false}, "axis": {"values": [0.25, 0.5, 1, 2, 4], "labelExpr": "datum.value == 0.25 ? '2⁻²' : datum.value == 1 ? '2⁰' : datum.value == 4 ? '2²' : ''", "labelOverlap": false, "labelFlush": false, "domainWidth": 2.5, "labelFontSize": 12, "tickSize": {"condition": {"test": "datum.value == 0.25 || datum.value == 1 || datum.value == 4", "value": 5}, "value": 3}}},
                       "y": {"field": "y", "type": "quantitative", "title": "Surviving Fraction (%)", "scale": {"domain": [0, 100], "range": [129, 23]}, "axis": {"values": [0, 50, 100], "domainWidth": 2.5, "labelFontSize": 12, "tickSize": 5, "titlePadding": 2}},
                       "color": {"field": "s", "type": "nominal", "scale": {"domain": ["DMSO", "ATQ 10 μM", "ATQ 30 μM"], "range": ["black", "black", "#1a7cf0"]}, "legend": {"title": null, "orient": "none", "legendX": 40, "legendY": 12, "symbolType": "stroke", "symbolSize": 200, "symbolStrokeWidth": 2.5, "labelFontSize": 11, "rowPadding": -5}},
                       "strokeDash": {"field": "s", "type": "nominal", "scale": {"domain": ["DMSO", "ATQ 10 μM", "ATQ 30 μM"], "range": [[1, 0], [5, 3], [1, 0]]}, "legend": {"title": null, "orient": "none", "legendX": 40, "legendY": 12, "symbolType": "stroke", "symbolSize": 200, "symbolStrokeWidth": 2.5, "labelFontSize": 11, "rowPadding": -5}}
                     }},
                    {"data": {"name": "dpR"}, "mark": {"type": "rule", "strokeWidth": 1.6},
                     "encoding": {"x": {"field": "x", "type": "quantitative", "title": "Cisplatin (μM)"}, "y": {"field": "lo", "type": "quantitative", "title": "Surviving Fraction (%)"}, "y2": {"field": "hi"},
                       "stroke": {"field": "s", "type": "nominal", "scale": {"domain": ["DMSO", "ATQ 10 μM", "ATQ 30 μM"], "range": ["black", "black", "#1a7cf0"]}, "legend": null}}},
                    {"data": {"name": "dpR"}, "mark": {"type": "tick", "orient": "horizontal", "size": 6, "thickness": 1.6},
                     "encoding": {"x": {"field": "x", "type": "quantitative", "title": "Cisplatin (μM)"}, "y": {"field": "hi", "type": "quantitative", "title": "Surviving Fraction (%)"},
                       "fill": {"field": "s", "type": "nominal", "scale": {"domain": ["DMSO", "ATQ 10 μM", "ATQ 30 μM"], "range": ["black", "black", "#1a7cf0"]}, "legend": null}}},
                    {"data": {"name": "dpR"}, "mark": {"type": "tick", "orient": "horizontal", "size": 6, "thickness": 1.6},
                     "encoding": {"x": {"field": "x", "type": "quantitative", "title": "Cisplatin (μM)"}, "y": {"field": "lo", "type": "quantitative", "title": "Surviving Fraction (%)"},
                       "fill": {"field": "s", "type": "nominal", "scale": {"domain": ["DMSO", "ATQ 10 μM", "ATQ 30 μM"], "range": ["black", "black", "#1a7cf0"]}, "legend": null}}},
                    {"data": {"name": "dpR"}, "mark": {"type": "point", "shape": "square", "filled": true, "size": 16, "opacity": 1},
                     "encoding": {"x": {"field": "x", "type": "quantitative", "title": "Cisplatin (μM)"}, "y": {"field": "y", "type": "quantitative", "title": "Surviving Fraction (%)"},
                       "fill": {"field": "s", "type": "nominal", "scale": {"domain": ["DMSO", "ATQ 10 μM", "ATQ 30 μM"], "range": ["black", "black", "#1a7cf0"]}, "legend": null}}},
                    {"data": {"name": "dstar"}, "transform": [{"filter": "datum.p == 'R'"}], "mark": {"type": "text", "dx": 13, "fontSize": 9, "color": "#333"},
                     "encoding": {"x": {"field": "x", "type": "quantitative", "title": "Cisplatin (μM)"}, "y": {"field": "y", "type": "quantitative", "title": "Surviving Fraction (%)"}, "text": {"field": "t"}}}
                  ]
                }
              ]
            },
            {
              "resolve": {"scale": {"color": "independent", "fill": "independent", "stroke": "independent", "strokeDash": "independent", "xOffset": "independent"}},
              "spacing": 6,
              "vconcat": [
                {
                  "width": 218, "height": 130,
                  "title": {"text": " ", "fontSize": 1, "offset": 0, "dx": -34},
                  "data": {"name": "eT"},
                  "encoding": {
                    "x": {"field": "t", "type": "nominal", "title": "E", "scale": {"domain": ["24 hr", "48 hr", "72 hr", "96 hr"], "paddingInner": 0.13, "paddingOuter": 0.04},
                      "axis": {"labelAngle": 0, "labelFontWeight": "bold", "labelFontSize": 12.5, "ticks": false, "domainWidth": 2.5, "labelPadding": 4, "titleX": -43, "titleY": -179, "titleAlign": "left", "titleBaseline": "top", "titleFontSize": 16, "titleFontWeight": "bold"}},
                    "y": {"field": "v", "type": "quantitative", "scale": {"domain": [0, 40]},
                      "axis": {"title": ["PI Positive", "Cell Fraction (%)"], "values": [0, 10, 20, 30, 40], "titleFontSize": 12.5, "labelFontSize": 13, "domainWidth": 2.5, "tickSize": 5, "titlePadding": 4}}
                  },
                  "layer": [
                    {"mark": {"type": "bar", "stroke": "black", "strokeWidth": 1.2},
                     "encoding": {
                       "xOffset": {"field": "g", "type": "nominal", "scale": {"domain": ["Carboplatin 5 μM", "Carboplatin 5 μM + ATQ 10 μM", "Carboplatin 5 μM + ATQ 30 μM"], "paddingInner": 0.06, "paddingOuter": 0}},
                       "fill": {"field": "g", "type": "nominal", "scale": {"domain": ["Carboplatin 5 μM", "Carboplatin 5 μM + ATQ 10 μM", "Carboplatin 5 μM + ATQ 30 μM"], "range": ["#22cc22", "#1e6ef0", "#ee2233"]},
                         "legend": {"title": null, "orient": "none", "legendX": 23, "legendY": -23, "symbolType": "square", "symbolSize": 110, "symbolStrokeColor": "black", "symbolStrokeWidth": 1.2, "labelFontSize": 10, "rowPadding": 0,
                           "labelExpr": "indexof(datum.label, ' + ') > 0 ? [substring(datum.label, 0, indexof(datum.label, ' + ')), substring(datum.label, indexof(datum.label, ' + ') + 1, length(datum.label))] : datum.label"}}
                     }},
                    {"mark": {"type": "rule", "color": "black", "strokeWidth": 1.2},
                     "encoding": {"xOffset": {"field": "g", "type": "nominal"}, "y2": {"field": "hi"}}},
                    {"mark": {"type": "tick", "color": "black", "thickness": 1.2, "size": 7},
                     "encoding": {"xOffset": {"field": "g", "type": "nominal"}, "y": {"field": "hi", "type": "quantitative"}}},
                    {"data": {"name": "sT"}, "transform": [{"filter": "datum.k == 'long'"}], "mark": {"type": "rule", "color": "#555", "strokeWidth": 1},
                     "encoding": {"x": {"field": "t", "type": "nominal", "bandPosition": 0.16}, "x2": {"field": "t", "bandPosition": 0.84}, "y": {"field": "y", "type": "quantitative"}}},
                    {"data": {"name": "sT"}, "transform": [{"filter": "datum.k == 'short'"}], "mark": {"type": "rule", "color": "#555", "strokeWidth": 1},
                     "encoding": {"x": {"field": "t", "type": "nominal", "bandPosition": 0.5}, "x2": {"field": "t", "bandPosition": 0.84}, "y": {"field": "y", "type": "quantitative"}}},
                    {"data": {"name": "sT"}, "transform": [{"filter": "datum.k == 'long'"}], "mark": {"type": "text", "fontSize": 7.5, "baseline": "bottom", "dy": -1, "color": "#333"},
                     "encoding": {"x": {"field": "t", "type": "nominal", "bandPosition": 0.5}, "y": {"field": "y", "type": "quantitative"}, "text": {"field": "lab"}}},
                    {"data": {"name": "sT"}, "transform": [{"filter": "datum.k == 'short'"}], "mark": {"type": "text", "fontSize": 7.5, "baseline": "bottom", "dy": -1, "color": "#333"},
                     "encoding": {"x": {"field": "t", "type": "nominal", "bandPosition": 0.67}, "y": {"field": "y", "type": "quantitative"}, "text": {"field": "lab"}}}
                  ]
                },
                {
                  "width": 218, "height": 129,
                  "title": {"text": " ", "fontSize": 1, "offset": 0, "dx": -34},
                  "data": {"name": "eB"},
                  "encoding": {
                    "x": {"field": "t", "type": "nominal", "title": null, "scale": {"domain": ["24 hr", "48 hr", "72 hr", "96 hr"], "paddingInner": 0.13, "paddingOuter": 0.04},
                      "axis": {"labelAngle": 0, "labelFontWeight": "bold", "labelFontSize": 12.5, "ticks": false, "domainWidth": 2.5, "labelPadding": 4}},
                    "y": {"field": "v", "type": "quantitative", "scale": {"domain": [0, 60]},
                      "axis": {"title": ["PI Positive", "Cell Fraction (%)"], "values": [0, 20, 40, 60], "titleFontSize": 12.5, "labelFontSize": 13, "domainWidth": 2.5, "tickSize": 5, "titlePadding": 4}}
                  },
                  "layer": [
                    {"mark": {"type": "bar", "stroke": "black", "strokeWidth": 1.2},
                     "encoding": {
                       "xOffset": {"field": "g", "type": "nominal", "scale": {"domain": ["Carboplatin 10 μM", "Carboplatin 10 μM + ATQ 10 μM", "Carboplatin 10 μM + ATQ 30 μM"], "paddingInner": 0.06, "paddingOuter": 0}},
                       "fill": {"field": "g", "type": "nominal", "scale": {"domain": ["Carboplatin 10 μM", "Carboplatin 10 μM + ATQ 10 μM", "Carboplatin 10 μM + ATQ 30 μM"], "range": ["#22cc22", "#1e6ef0", "#ee2233"]},
                         "legend": {"title": null, "orient": "none", "legendX": 12, "legendY": -22, "symbolType": "square", "symbolSize": 110, "symbolStrokeColor": "black", "symbolStrokeWidth": 1.2, "labelFontSize": 10, "rowPadding": 0,
                           "labelExpr": "indexof(datum.label, ' + ') > 0 ? [substring(datum.label, 0, indexof(datum.label, ' + ')), substring(datum.label, indexof(datum.label, ' + ') + 1, length(datum.label))] : datum.label"}}
                     }},
                    {"mark": {"type": "rule", "color": "black", "strokeWidth": 1.2},
                     "encoding": {"xOffset": {"field": "g", "type": "nominal"}, "y2": {"field": "hi"}}},
                    {"mark": {"type": "tick", "color": "black", "thickness": 1.2, "size": 7},
                     "encoding": {"xOffset": {"field": "g", "type": "nominal"}, "y": {"field": "hi", "type": "quantitative"}}},
                    {"data": {"name": "sB"}, "transform": [{"filter": "datum.k == 'long'"}], "mark": {"type": "rule", "color": "#555", "strokeWidth": 1},
                     "encoding": {"x": {"field": "t", "type": "nominal", "bandPosition": 0.16}, "x2": {"field": "t", "bandPosition": 0.84}, "y": {"field": "y", "type": "quantitative"}}},
                    {"data": {"name": "sB"}, "transform": [{"filter": "datum.k == 'short'"}], "mark": {"type": "rule", "color": "#555", "strokeWidth": 1},
                     "encoding": {"x": {"field": "t", "type": "nominal", "bandPosition": 0.5}, "x2": {"field": "t", "bandPosition": 0.84}, "y": {"field": "y", "type": "quantitative"}}},
                    {"data": {"name": "sB"}, "transform": [{"filter": "datum.k == 'long'"}], "mark": {"type": "text", "fontSize": 7.5, "baseline": "bottom", "dy": -1, "color": "#333"},
                     "encoding": {"x": {"field": "t", "type": "nominal", "bandPosition": 0.5}, "y": {"field": "y", "type": "quantitative"}, "text": {"field": "lab"}}},
                    {"data": {"name": "sB"}, "transform": [{"filter": "datum.k == 'short'"}], "mark": {"type": "text", "fontSize": 7.5, "baseline": "bottom", "dy": -1, "color": "#333"},
                     "encoding": {"x": {"field": "t", "type": "nominal", "bandPosition": 0.67}, "y": {"field": "y", "type": "quantitative"}, "text": {"field": "lab"}}}
                  ]
                }
              ]
            }
          ]
        }
      ]
    }
  ]
}
